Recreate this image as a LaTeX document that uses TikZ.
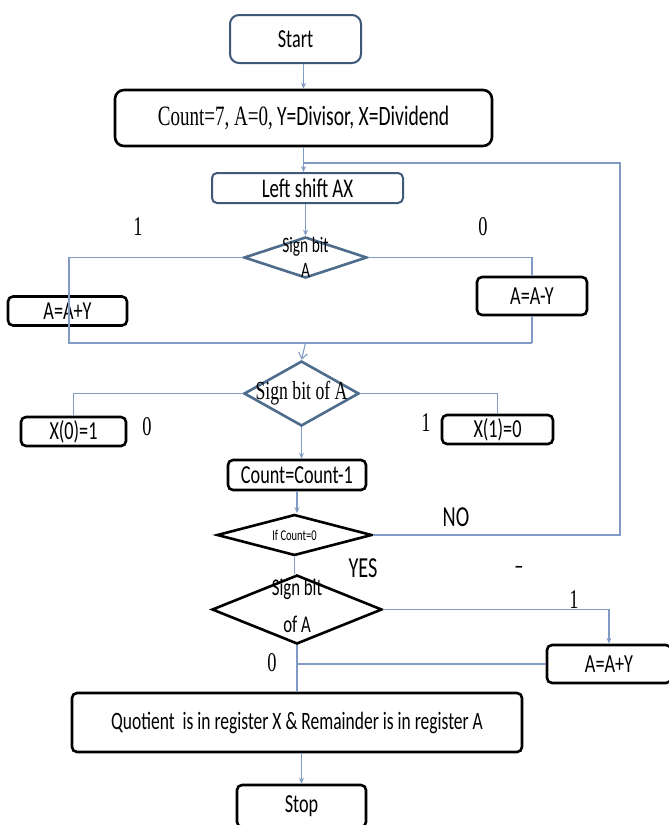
\documentclass[tikz,border=0pt]{standalone}
\usepackage{fontspec}
\usetikzlibrary{shapes.geometric,arrows.meta}
\setmainfont{Carlito}
\newfontfamily\cbf[FakeStretch=0.7]{Carlito}
\newfontfamily\tmf[FakeStretch=0.68]{Liberation Serif}
\definecolor{linec}{RGB}{128,156,196}
\definecolor{dkblue}{RGB}{62,88,122}
\definecolor{mdblue}{RGB}{78,108,140}
\newcommand{\fs}[1]{\fontsize{#1}{#1}\selectfont}
\tikzset{
  base/.style={inner sep=0pt, font=\cbf\fs{26}},
  bbox/.style={base, rectangle, draw=black, line width=2.6pt, rounded corners=5pt},
  ubox/.style={base, rectangle, draw=dkblue, line width=2pt, rounded corners=6pt},
  bdia/.style={base, diamond, draw=black, line width=2.6pt},
  udia/.style={base, diamond, draw=mdblue, line width=2.6pt},
  cline/.style={draw=linec, line width=1.1pt},
  arr/.style={cline, -{Stealth[length=6pt,width=5pt]}},
  varr/.style={cline, -{Straight Barb[length=6pt,width=9pt]}},
  lbl/.style={inner sep=0pt, font=\tmf\fs{27}},
  clbl/.style={inner sep=0pt, font=\cbf\fs{29}},
  dtxt/.style={inner sep=0pt, align=center}
}
\begin{document}
\begin{tikzpicture}[x=1pt,y=-1pt]
\fill[white] (0,0) rectangle (669,825);
\useasboundingbox (0,0) rectangle (669,825);

% boxes
\node[ubox, minimum width=131pt, minimum height=48pt, rounded corners=9pt] (start) at (295.5,39) {\fs{26}Start};
\node[bbox, minimum width=377pt, minimum height=56pt, rounded corners=9pt] (init) at (303.5,118)
  {{\tmf\fs{28}Count=7, A=0,} {\fs{28}Y=Divisor, X=Dividend}};
\node[ubox, minimum width=191pt, minimum height=30pt, rounded corners=5pt] (ls) at (307.5,188) {\fs{27}Left shift AX};
\node[udia, minimum width=123pt, minimum height=41pt,
  label={[name=d1t, dtxt, font=\cbf\fontsize{22}{25.5}\selectfont]center:Sign bit\\A}] (d1) at (305.5,257.5) {};
\node[bbox, minimum width=119pt, minimum height=29pt] (aay) at (67.5,311) {A=A+Y};
\node[bbox, minimum width=110pt, minimum height=38pt] (asy) at (532,296) {A=A-Y};
\node[udia, minimum width=115pt, minimum height=65pt,
  label={[name=d2t, dtxt, font=\tmf\fs{26}]center:Sign bit of A}] (d2) at (301.5,393.5) {};
\node[bbox, minimum width=105pt, minimum height=29pt] (x0) at (73.5,431.5) {X(0)=1};
\node[bbox, minimum width=111pt, minimum height=29pt] (x1) at (497.5,429.5) {X(1)=0};
\node[bbox, minimum width=138pt, minimum height=30pt] (cnt) at (297,475) {Count=Count-1};
\node[bdia, minimum width=155pt, minimum height=41pt,
  label={[name=d3t, dtxt, font=\cbf\fs{15}]center:If Count=0}] (d3) at (294.5,535) {};
\node[bdia, minimum width=170pt, minimum height=69pt,
  label={[name=d4t, dtxt, yshift=3.5pt, font=\cbf\fontsize{24}{37}\selectfont]center:Sign bit\\of A}] (d4) at (297,609.5) {};
\node[bbox, minimum width=124pt, minimum height=38pt] (aay2) at (609,664) {A=A+Y};
\node[bbox, minimum width=450pt, minimum height=59pt] (quot) at (297,722.5)
  {\fs{25}Quotient\ \ is in register X \& Remainder is in register A};
\node[bbox, minimum width=129pt, minimum height=42pt] (stop) at (301.5,806) {Stop};

% coordinates
\coordinate (mL) at (69,343);
\coordinate (mR) at (532,343);
\coordinate (mC) at (305.5,343);
\coordinate (lr) at (620,163);

% connectors
\draw[arr] (start.south -| init.north) -- (init.north);
\draw[arr] (init.south) -- (init.south |- ls.north);
\draw[cline] (d3.east) -| (lr) -- (init.south |- lr);
\draw[arr] (ls.south -| d1.north) -- (d1.north);
\draw[cline] (d1.west) -| (mL) -- (mR);
\draw[cline] (d1.east) -| (asy.north);
\draw[cline] (asy.south) -- (mR);
\draw[varr] (mC) -- (d2.north);
\draw[cline] (d2.west) -| (x0.north);
\draw[cline] (d2.east) -| (x1.north);
\draw[arr] (d2.south) -- (d2.south |- cnt.north);
\draw[arr] (cnt.south) -- (cnt.south |- d3.north);
\draw[cline] (d3.south) -- (d3.south |- d4.north);
\draw[arr] (d4.east) -| (aay2.north);
\draw[cline] (aay2.west) -- (aay2.west -| d4.south);
\draw[cline] (d4.south) -- (d4.south |- quot.north);
\draw[arr] (quot.south -| stop.north) -- (stop.north);

% labels
\node[lbl] (l1a) at (138,227) {1};
\node[lbl] (l0a) at (483,227) {0};
\node[lbl] (l0b) at (147,427) {0};
\node[lbl] (l1b) at (426,423) {1};
\node[clbl] (no) at (456,517) {NO};
\node[clbl] (yes) at (363,568) {YES};
\node[clbl, font=\cbf\fs{26}] (dash) at (519,570) {–};
\node[lbl] (l1c) at (574,600) {1};
\node[lbl] (l0c) at (272,663) {0};
\end{tikzpicture}
\end{document}
